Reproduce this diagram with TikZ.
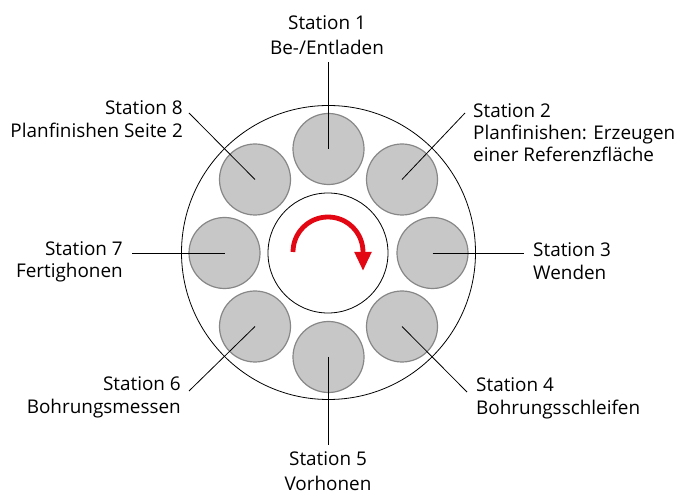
\documentclass[tikz,border=0pt]{standalone}
\usepackage{fontspec}
\setmainfont{Open Sans}
\usetikzlibrary{arrows.meta,calc}
\definecolor{stfill}{RGB}{199,199,199}
\definecolor{stdraw}{RGB}{135,135,135}
\definecolor{rotred}{RGB}{227,6,19}
\begin{document}
\begin{tikzpicture}[x=1pt,y=-1pt,
  station/.style={circle, draw=stdraw, fill=stfill, line width=1.2pt, minimum size=71pt, inner sep=0pt},
  ring/.style={circle, draw=black, line width=0.8pt, inner sep=0pt},
  leader/.style={draw=black, line width=0.8pt},
  lbl/.style={font=\fontsize{18.9}{22.5}\selectfont, inner sep=0pt, anchor=base},
  lblL/.style={lbl, anchor=base east},
  lblR/.style={lbl, anchor=base west},
  rotarrow/.style={draw=rotred, line width=4.8pt, -{Triangle[length=19pt,width=16pt]}},
]
\useasboundingbox (0,0) rectangle (678,494);
\fill[white] (0,0) rectangle (678,494);
% rings
\node[ring, minimum size=294pt] (outer) at (328.5,252.5) {};
\node[ring, minimum size=120pt] (inner) at (328,253) {};
% stations
\node[station] (s1) at (328.5,149) {};
\node[station] (s2) at (402,179.5) {};
\node[station] (s3) at (432.5,253) {};
\node[station] (s4) at (402,326.5) {};
\node[station] (s5) at (328.5,357) {};
\node[station] (s6) at (255,326.5) {};
\node[station] (s7) at (224.5,253) {};
\node[station] (s8) at (255,179.5) {};
% leader ends
\coordinate (e1) at (328.5,62);
\coordinate (e2) at (465,113);
\coordinate (e3) at (524,253);
\coordinate (e4) at (467,392);
\coordinate (e5) at (328.5,445);
\coordinate (e6) at (189,391);
\coordinate (e7) at (132,253);
\coordinate (e8) at (189,113);
\foreach \i in {1,...,8} {\draw[leader] (s\i.center) -- (e\i);}
% rotation arrow
\coordinate (rc) at (328,252);
\draw[rotarrow] ($(rc)+(-35,0)$) arc[start angle=180, end angle=360, radius=35] -- ++(0,19);
% labels
\node[lbl] (t1a) at (327,29.5) {Station 1};
\node[lbl] (t1b) at (327,55) {Be-/Entladen};
\node[lblR] (t2a) at (473,117.3) {Station 2};
\node[lblR] (t2b) at (473,140) {Planfinishen: Erzeugen};
\node[lblR] (t2c) at (473,161.7) {einer Referenzfläche};
\node[lblR] (t3a) at (533,256.7) {Station 3};
\node[lblR] (t3b) at (533,279.3) {Wenden};
\node[lblR] (t4a) at (476,391.7) {Station 4};
\node[lblR] (t4b) at (476,414.5) {Bohrungsschleifen};
\node[lbl] (t5a) at (328,465.7) {Station 5};
\node[lbl] (t5b) at (328,490) {Vorhonen};
\node[lblL] (t6a) at (181,390.7) {Station 6};
\node[lblL] (t6b) at (181,413.3) {Bohrungsmessen};
\node[lblL] (t7a) at (123,255.7) {Station 7};
\node[lblL] (t7b) at (123,277.3) {Fertighonen};
\node[lblL] (t8a) at (183,114.3) {Station 8};
\node[lblL] (t8b) at (183,137.3) {Planfinishen Seite 2};
\end{tikzpicture}
\end{document}
